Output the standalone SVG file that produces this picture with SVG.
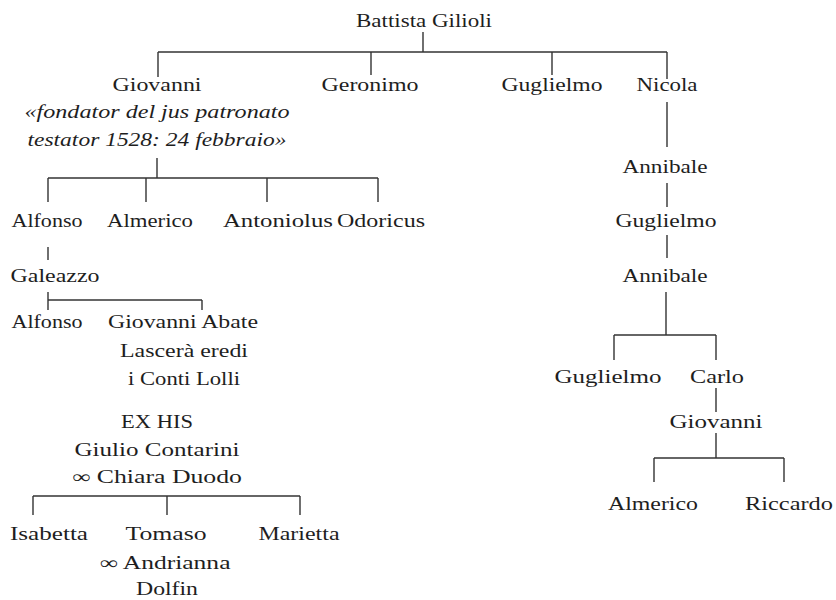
<svg xmlns="http://www.w3.org/2000/svg" width="836" height="600" viewBox="0 0 836 600">
<style>
text{font-family:"Liberation Serif","Times New Roman","DejaVu Serif",serif;font-size:18.5px;fill:#1e1e1e;text-anchor:middle}
.it{font-style:italic}
.c line{stroke:#333;stroke-width:1.4}
</style>
<rect width="836" height="600" fill="#fff"/>
<g class="c" id="connectors">
<line x1="423" y1="32" x2="423" y2="52"/>
<line x1="158" y1="52" x2="667" y2="52"/>
<line x1="158" y1="52" x2="158" y2="77"/>
<line x1="371" y1="52" x2="371" y2="75"/>
<line x1="552" y1="52" x2="552" y2="75"/>
<line x1="667" y1="52" x2="667" y2="79"/>
<line x1="157" y1="158" x2="157" y2="178"/>
<line x1="48" y1="178" x2="378" y2="178"/>
<line x1="48" y1="178" x2="48" y2="202"/>
<line x1="146" y1="178" x2="146" y2="202"/>
<line x1="267" y1="178" x2="267" y2="202"/>
<line x1="378" y1="178" x2="378" y2="202"/>
<line x1="48" y1="247" x2="48" y2="260"/>
<line x1="48" y1="292" x2="48" y2="310"/>
<line x1="48" y1="300" x2="202" y2="300"/>
<line x1="202" y1="300" x2="202" y2="310"/>
<line x1="33" y1="496" x2="300" y2="496"/>
<line x1="33" y1="496" x2="33" y2="515"/>
<line x1="167" y1="496" x2="167" y2="515"/>
<line x1="300" y1="496" x2="300" y2="515"/>
<line x1="667" y1="102" x2="667" y2="147"/>
<line x1="667" y1="183" x2="667" y2="207"/>
<line x1="667" y1="235" x2="667" y2="258"/>
<line x1="666" y1="292" x2="666" y2="335"/>
<line x1="614" y1="335" x2="716" y2="335"/>
<line x1="614" y1="335" x2="614" y2="360"/>
<line x1="716" y1="335" x2="716" y2="360"/>
<line x1="716" y1="388" x2="716" y2="412"/>
<line x1="716" y1="433" x2="716" y2="458"/>
<line x1="654" y1="458" x2="784" y2="458"/>
<line x1="654" y1="458" x2="654" y2="482"/>
<line x1="784" y1="458" x2="784" y2="482"/>
</g>
<g id="battista"><text x="424" y="27" textLength="136" lengthAdjust="spacingAndGlyphs">Battista Gilioli</text></g>
<g id="giovanni"><text x="157" y="91" textLength="89" lengthAdjust="spacingAndGlyphs">Giovanni</text>
<text class="it" x="157" y="118" textLength="265" lengthAdjust="spacingAndGlyphs">«fondator del jus patronato</text>
<text class="it" x="157" y="146" textLength="259" lengthAdjust="spacingAndGlyphs">testator 1528: 24 febbraio»</text></g>
<g id="geronimo"><text x="370" y="91" textLength="97" lengthAdjust="spacingAndGlyphs">Geronimo</text></g>
<g id="guglielmo1"><text x="552" y="91" textLength="101" lengthAdjust="spacingAndGlyphs">Guglielmo</text></g>
<g id="nicola"><text x="667" y="91" textLength="61" lengthAdjust="spacingAndGlyphs">Nicola</text></g>
<g id="alfonso1"><text x="47" y="227" textLength="71" lengthAdjust="spacingAndGlyphs">Alfonso</text></g>
<g id="almerico1"><text x="150" y="227" textLength="86" lengthAdjust="spacingAndGlyphs">Almerico</text></g>
<g id="antoniolus"><text x="278" y="227" textLength="110" lengthAdjust="spacingAndGlyphs">Antoniolus</text></g>
<g id="odoricus"><text x="381" y="227" textLength="88" lengthAdjust="spacingAndGlyphs">Odoricus</text></g>
<g id="galeazzo"><text x="55" y="282" textLength="89" lengthAdjust="spacingAndGlyphs">Galeazzo</text></g>
<g id="alfonso2"><text x="47" y="328" textLength="71" lengthAdjust="spacingAndGlyphs">Alfonso</text></g>
<g id="giovanniabate"><text x="183" y="328" textLength="150" lengthAdjust="spacingAndGlyphs">Giovanni Abate</text>
<text x="184" y="357" textLength="128" lengthAdjust="spacingAndGlyphs">Lascerà eredi</text>
<text x="184" y="385" textLength="112" lengthAdjust="spacingAndGlyphs">i Conti Lolli</text></g>
<g id="exhis"><text x="157" y="428" textLength="72" lengthAdjust="spacingAndGlyphs">EX HIS</text>
<text x="157" y="456" textLength="165" lengthAdjust="spacingAndGlyphs">Giulio Contarini</text>
<text x="157" y="483" textLength="170" lengthAdjust="spacingAndGlyphs">∞ Chiara Duodo</text></g>
<g id="isabetta"><text x="49" y="540" textLength="78" lengthAdjust="spacingAndGlyphs">Isabetta</text></g>
<g id="tomaso"><text x="166" y="540" textLength="81" lengthAdjust="spacingAndGlyphs">Tomaso</text>
<text x="165" y="569" textLength="131" lengthAdjust="spacingAndGlyphs">∞ Andrianna</text>
<text x="167" y="595" textLength="62" lengthAdjust="spacingAndGlyphs">Dolfin</text></g>
<g id="marietta"><text x="299" y="540" textLength="81" lengthAdjust="spacingAndGlyphs">Marietta</text></g>
<g id="annibale1"><text x="665" y="173" textLength="85" lengthAdjust="spacingAndGlyphs">Annibale</text></g>
<g id="guglielmo2"><text x="666" y="227" textLength="101" lengthAdjust="spacingAndGlyphs">Guglielmo</text></g>
<g id="annibale2"><text x="665" y="282" textLength="85" lengthAdjust="spacingAndGlyphs">Annibale</text></g>
<g id="guglielmo3"><text x="608" y="383" textLength="107" lengthAdjust="spacingAndGlyphs">Guglielmo</text></g>
<g id="carlo"><text x="717" y="383" textLength="54" lengthAdjust="spacingAndGlyphs">Carlo</text></g>
<g id="giovanni2"><text x="716" y="428" textLength="93" lengthAdjust="spacingAndGlyphs">Giovanni</text></g>
<g id="almerico2"><text x="653" y="510" textLength="90" lengthAdjust="spacingAndGlyphs">Almerico</text></g>
<g id="riccardo"><text x="789" y="510" textLength="88" lengthAdjust="spacingAndGlyphs">Riccardo</text></g>
</svg>
